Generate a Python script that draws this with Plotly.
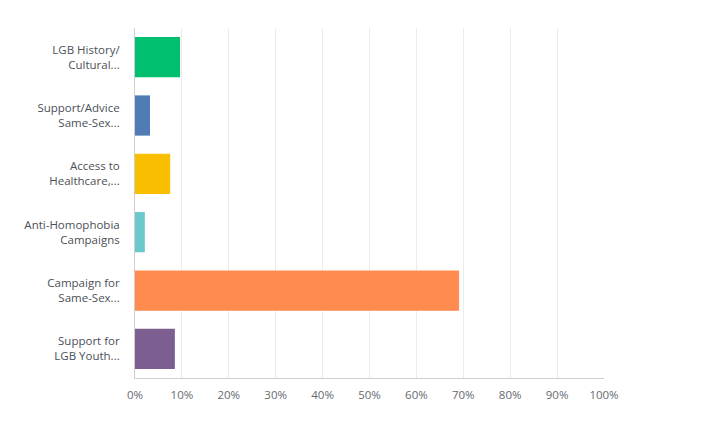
import plotly.graph_objects as go

# answer choices (top to bottom) and share of responses
categories = ["LGB History/<br>Cultural...", "Support/Advice<br>Same-Sex...",
              "Access to<br>Healthcare,...", "Anti-Homophobia<br>Campaigns",
              "Campaign for<br>Same-Sex...", "Support for<br>LGB Youth..."]
values = [9.6, 3.2, 7.5, 2.1, 69.1, 8.5]
colors = ["#00BF6F", "#507CB6", "#F9BE00", "#6BC8CD", "#FF8B4F", "#7D5E90"]
tick_vals = [0, 10, 20, 30, 40, 50, 60, 70, 80, 90, 100]
tick_text = [f"{v}%" for v in tick_vals]

fig = go.Figure()
fig.add_trace(go.Bar(
    x=values, y=categories, orientation="h",
    marker=dict(color=colors, line=dict(width=0)),
    width=0.69, hoverinfo="x+y",
))

# page body has an 8px margin, so shift the plot area up/left by that much
fig.update_layout(
    width=712, height=424,
    margin=dict(l=127, r=116, t=20, b=54),
    paper_bgcolor="white", plot_bgcolor="white",
    showlegend=False,
    font=dict(family="Open Sans, sans-serif", size=11.5, color="#555a63"),
)
fig.update_xaxes(
    range=[0, 100], tickvals=tick_vals, ticktext=tick_text,
    showgrid=True, gridcolor="#ebebeb", gridwidth=1,
    showline=True, linecolor="#cfcfcf", linewidth=1,
    zeroline=False, ticks="", ticklabelstandoff=6,
    tickfont=dict(size=11.5, color="#666a70"),
)
fig.update_yaxes(
    autorange="reversed",
    showline=True, linecolor="#cfcfcf", linewidth=1,
    showgrid=False, ticks="", ticklabelstandoff=12,
    tickfont=dict(size=11.5, color="#4b4f58"),
)

fig.write_html("out.html")
